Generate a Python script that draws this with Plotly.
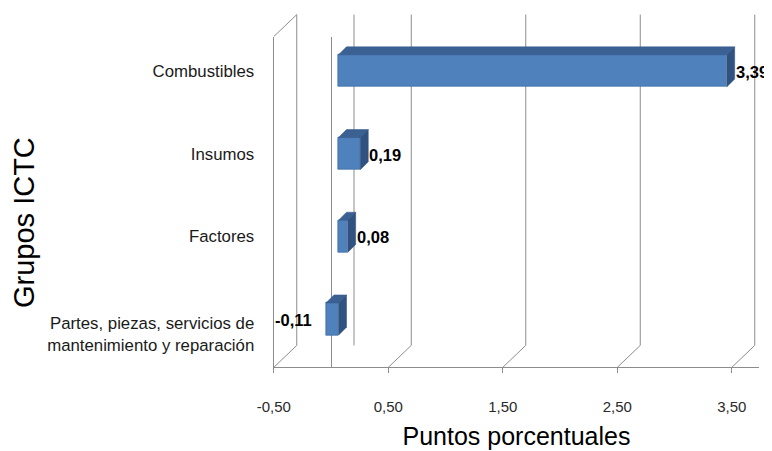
import plotly.graph_objects as go

# ---------------- data ----------------
categories = ["Combustibles", "Insumos", "Factores",
              "Partes, piezas, servicios de mantenimiento y reparación"]
tick_labels = ["Combustibles", "Insumos", "Factores",
               "Partes, piezas, servicios de<br>mantenimiento y reparación"]
values = [3.39, 0.19, 0.08, -0.11]
value_labels = ["3,39", "0,19", "0,08", "-0,11"]
x_ticks = [-0.5, 0.5, 1.5, 2.5, 3.5]
x_tick_labels = ["-0,50", "0,50", "1,50", "2,50", "3,50"]

# ---------------- geometry / style ----------------
W, H = 772, 451
PAGE_OFF = 8         # page body margin that offsets the plot div
S = 114.5            # px per unit on x
X0_BAR = 338.5       # px of 0 on bar plane
X0_FRONT = 331.0     # px of 0 on front plane
XR = [-0.5, 3.74]
YR = [-0.5, 3.5]
CAT_PX = 82.7        # px per category
Y_BAR_BOTTOM = 360.4 # px of y=-0.5 on bar plane
FRONT_DY = 7         # front plane lower by this many px
DEPTH_X, DEPTH_Y = 23, 22     # back-wall offset (px)
BAR_DX, BAR_DY = 8, 8         # bar depth (px)
BAR_W = 0.39
GRID = "#8c8c8c"
FONT = "Liberation Sans, Arial, sans-serif"
TXT = "#1a1a1a"


def px2fx(p):
    return (p - PAGE_OFF) / W


def px2fy(p):
    return 1 - (p - PAGE_OFF) / H


n = len(categories)
ypos = [n - 1 - i for i in range(n)]

bar_dom = [px2fx(X0_BAR + S * XR[0]), px2fx(X0_BAR + S * XR[1])]
front_dom = [px2fx(X0_FRONT + S * XR[0]), px2fx(X0_FRONT + S * XR[1])]
y_top_px = Y_BAR_BOTTOM - CAT_PX * (YR[1] - YR[0])
ybar_dom = [px2fy(Y_BAR_BOTTOM), px2fy(y_top_px)]
yfront_dom = [px2fy(Y_BAR_BOTTOM + FRONT_DY), px2fy(y_top_px + FRONT_DY)]
floor_front = Y_BAR_BOTTOM + FRONT_DY
floor_back = floor_front - DEPTH_Y
top_front = y_top_px + FRONT_DY
top_back = top_front - DEPTH_Y

fig = go.Figure()
# front plane (frame) axes x/y: invisible anchor trace
fig.add_trace(go.Scatter(x=[XR[0]], y=[0], mode="markers", marker=dict(opacity=0),
                         hoverinfo="skip", showlegend=False, xaxis="x", yaxis="y"))
# bars on the bar plane x2/y2 (drawn above the frame)
fig.add_trace(go.Bar(
    x=values, y=ypos, orientation="h", width=BAR_W,
    marker=dict(color="#4f81bd", line=dict(color="#3f6ea6", width=0.8)),
    hoverinfo="skip", showlegend=False, xaxis="x2", yaxis="y2",
))

shapes = []
# back wall gridlines + floor diagonals at every tick
for t in x_ticks:
    shapes.append(dict(type="line", xref="x", xsizemode="pixel", xanchor=t,
                       x0=DEPTH_X, x1=DEPTH_X, yref="paper",
                       y0=px2fy(floor_back), y1=px2fy(top_back),
                       line=dict(color=GRID, width=1), layer="below"))
    shapes.append(dict(type="line", xref="x", xsizemode="pixel", xanchor=t,
                       x0=0, x1=DEPTH_X, yref="paper",
                       y0=px2fy(floor_front), y1=px2fy(floor_back),
                       line=dict(color=GRID, width=1), layer="below"))
# left wall top diagonal
shapes.append(dict(type="line", xref="x", xsizemode="pixel", xanchor=XR[0],
                   x0=0, x1=DEPTH_X, yref="paper",
                   y0=px2fy(top_front), y1=px2fy(top_back),
                   line=dict(color=GRID, width=1), layer="below"))
# back zero line
shapes.append(dict(type="line", xref="x", xsizemode="pixel", xanchor=0,
                   x0=DEPTH_X, x1=DEPTH_X, yref="paper",
                   y0=px2fy(floor_back), y1=px2fy(top_back),
                   line=dict(color=GRID, width=1), layer="below"))

# 3-D faces of the bars
dxu = BAR_DX / S
dyu = BAR_DY / CAT_PX
h = BAR_W / 2
for v, c in zip(values, ypos):
    lo, hi = min(0, v), max(0, v)
    top = (f"M {lo},{c + h} L {hi},{c + h} L {hi + dxu},{c + h + dyu} "
           f"L {lo + dxu},{c + h + dyu} Z")
    side = (f"M {hi},{c - h} L {hi},{c + h} L {hi + dxu},{c + h + dyu} "
            f"L {hi + dxu},{c - h + dyu} Z")
    shapes.append(dict(type="path", xref="x2", yref="y2", path=top,
                       fillcolor="#3b6193", line=dict(color="#35598a", width=0.5)))
    shapes.append(dict(type="path", xref="x2", yref="y2", path=side,
                       fillcolor="#2f5280", line=dict(color="#2c4c78", width=0.5)))

lab_font = dict(family=FONT, size=16.5, color="#000", weight="bold")
annotations = []
for v, c, lab in zip(values, ypos, value_labels):
    if v >= 0:
        annotations.append(dict(x=v, y=c, xref="x2", yref="y2", text=lab, showarrow=False,
                                xanchor="left", xshift=BAR_DX - 1, yshift=-1,
                                font=lab_font))
    else:
        annotations.append(dict(x=v, y=c, xref="x2", yref="y2", text=lab, showarrow=False,
                                xanchor="right", xshift=-12, yshift=-1,
                                font=lab_font))
annotations.append(dict(x=px2fx(24), y=px2fy(223), xref="paper", yref="paper",
                        xanchor="center", yanchor="middle",
                        text="Grupos ICTC", textangle=-90, showarrow=False,
                        font=dict(family=FONT, size=29, color="#000")))

# label positions: multi-line labels nudged down
lab_pos = [c - 0.18 * t.count("<br>") for c, t in zip(ypos, tick_labels)]

fig.update_layout(
    width=W, height=H, margin=dict(l=0, r=0, t=0, b=0, autoexpand=False),
    paper_bgcolor="white", plot_bgcolor="rgba(0,0,0,0)",
    showlegend=False, bargap=0,
    # front plane
    xaxis=dict(domain=front_dom, range=XR, anchor="y",
               tickvals=x_ticks, ticktext=x_tick_labels, ticks="outside",
               ticklen=5, tickcolor=GRID, showgrid=False,
               showline=True, linecolor=GRID, linewidth=1,
               zeroline=True, zerolinecolor=GRID, zerolinewidth=1,
               ticklabelstandoff=21, automargin=False, fixedrange=True,
               tickfont=dict(family=FONT, size=15, color="#2a2a2a"),
               title=dict(text="Puntos porcentuales", standoff=13,
                          font=dict(family=FONT, size=25, color="#000"))),
    yaxis=dict(domain=yfront_dom, range=YR, anchor="x",
               showgrid=False, zeroline=False, showticklabels=False, ticks="",
               showline=True, linecolor=GRID, linewidth=1, automargin=False,
               fixedrange=True),
    # bar plane
    xaxis2=dict(domain=bar_dom, range=XR, anchor="y2", showgrid=False, zeroline=False,
                showticklabels=False, showline=False, automargin=False,
                fixedrange=True),
    yaxis2=dict(domain=ybar_dom, range=YR, anchor="x2", showgrid=False, zeroline=False,
                showline=False, tickvals=lab_pos, ticktext=tick_labels,
                ticks="", ticklabelstandoff=26, automargin=False, fixedrange=True,
                tickfont=dict(family=FONT, size=16.8, color=TXT)),
    shapes=shapes, annotations=annotations,
)

fig.write_html("out.html")
